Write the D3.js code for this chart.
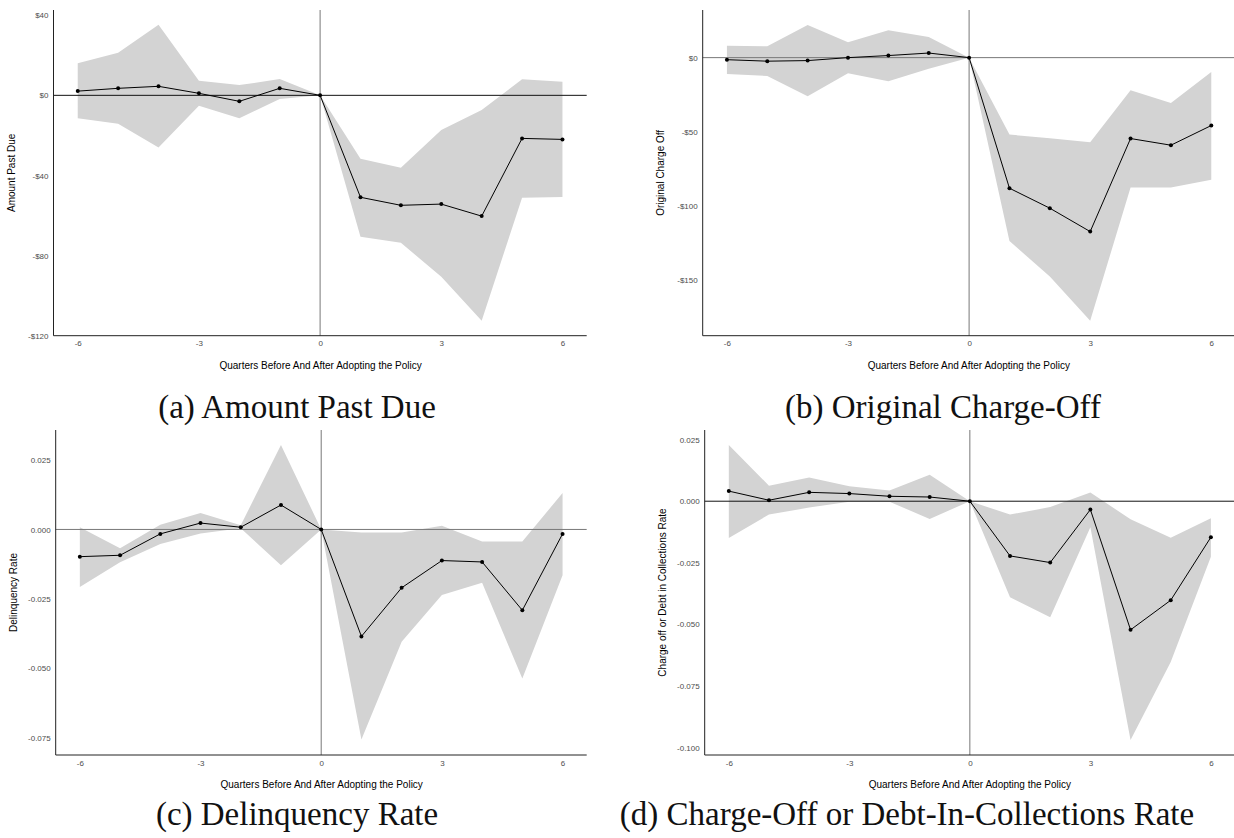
<!DOCTYPE html>
<html>
<head>
<meta charset="utf-8">
<script src="https://cdn.jsdelivr.net/npm/d3@7"></script>
<style>
  html, body { margin: 0; padding: 0; background: #fff; }
  svg { display: block; }
</style>
</head>
<body>
<svg id="fig" width="1234" height="838"></svg>
<script>
// Event-study estimates by quarter relative to policy adoption
const quarters = [-6, -5, -4, -3, -2, -1, 0, 1, 2, 3, 4, 5, 6];
const xTicks = [-6, -3, 0, 3, 6];
const xTitle = "Quarters Before And After Adopting the Policy";

// (a) Amount past due, dollars
const pastDueEst  = [2.1, 3.5, 4.5, 1.0, -3.0, 3.5, 0, -50.9, -54.9, -54.3, -60.3, -21.5, -22.0];
const pastDueLow  = [-11.5, -14.2, -26.0, -5.2, -11.5, -1.8, 0, -70.6, -73.6, -90.6, -112.5, -51.1, -50.8];
const pastDueHigh = [16.0, 21.3, 35.2, 7.3, 5.1, 8.1, 0, -31.6, -36.1, -17.3, -7.3, 8.0, 6.8];
const pastDueTicks = [40, 0, -40, -80, -120];
const pastDueTickLabels = ["$40", "$0", "-$40", "-$80", "-$120"];

// (b) Original charge-off, dollars
const chargeOffEst  = [-1.4, -2.4, -2.0, 0.0, 1.4, 3.1, 0, -88.3, -101.8, -117.6, -54.7, -59.2, -45.9];
const chargeOffLow  = [-11.0, -12.4, -26.1, -10.5, -16.0, -7.5, 0, -124.0, -148.0, -177.9, -87.8, -87.8, -82.6];
const chargeOffHigh = [8.1, 7.7, 22.1, 10.4, 18.5, 14.0, 0, -52.0, -54.5, -57.2, -22.0, -30.6, -9.7];
const chargeOffTicks = [0, -50, -100, -150];
const chargeOffTickLabels = ["$0", "-$50", "-$100", "-$150"];

// (c) Delinquency rate
const delinqEst  = [-0.0098, -0.0093, -0.0016, 0.0023, 0.0008, 0.0088, 0, -0.0385, -0.0210, -0.0112, -0.0117, -0.0291, -0.0016];
const delinqLow  = [-0.0207, -0.0118, -0.0052, -0.0015, 0.0004, -0.0129, 0, -0.0756, -0.0404, -0.0236, -0.0192, -0.0537, -0.0165];
const delinqHigh = [0.0008, -0.0068, 0.0017, 0.0059, 0.0015, 0.0304, 0, -0.0011, -0.0011, 0.0013, -0.0043, -0.0043, 0.0131];
const delinqTicks = [0.025, 0, -0.025, -0.05, -0.075];
const delinqTickLabels = ["0.025", "0.000", "-0.025", "-0.050", "-0.075"];

// (d) Charge-off or debt-in-collections rate
const collectEst  = [0.0041, 0.0004, 0.0036, 0.0031, 0.0020, 0.0017, 0, -0.0222, -0.0249, -0.0034, -0.0522, -0.0402, -0.0146];
const collectLow  = [-0.0149, -0.0054, -0.0026, -0.0002, -0.0002, -0.0072, 0, -0.0390, -0.0471, -0.0106, -0.0969, -0.0653, -0.0225];
const collectHigh = [0.0228, 0.0063, 0.0096, 0.0061, 0.0043, 0.0107, 0, -0.0054, -0.0024, 0.0035, -0.0073, -0.0148, -0.0069];
const collectTicks = [0.025, 0, -0.025, -0.05, -0.075, -0.1];
const collectTickLabels = ["0.025", "0.000", "-0.025", "-0.050", "-0.075", "-0.100"];

const panels = [
  { est: pastDueEst, low: pastDueLow, high: pastDueHigh, ticks: pastDueTicks, labels: pastDueTickLabels,
    yTitle: "Amount Past Due", caption: "(a) Amount Past Due",
    box: { left: 53.5, right: 586.7, top: 10, bottom: 335.7 }, yDomain: [-120, 42.6],
    hlineColor: "#111", capX: 297, capY: 418 },
  { est: chargeOffEst, low: chargeOffLow, high: chargeOffHigh, ticks: chargeOffTicks, labels: chargeOffTickLabels,
    yTitle: "Original Charge Off", caption: "(b) Original Charge-Off",
    box: { left: 702.7, right: 1235.5, top: 10, bottom: 335.7 }, yDomain: [-188, 32.2],
    hlineColor: "#777", capX: 943, capY: 418 },
  { est: delinqEst, low: delinqLow, high: delinqHigh, ticks: delinqTicks, labels: delinqTickLabels,
    yTitle: "Delinquency Rate", caption: "(c) Delinquency Rate",
    box: { left: 55.7, right: 586.7, top: 430, bottom: 755 }, yDomain: [-0.0812, 0.0358],
    hlineColor: "#777", capX: 297, capY: 825 },
  { est: collectEst, low: collectLow, high: collectHigh, ticks: collectTicks, labels: collectTickLabels,
    yTitle: "Charge off or Debt in Collections Rate", caption: "(d) Charge-Off or Debt-In-Collections Rate",
    box: { left: 704.7, right: 1235, top: 430, bottom: 755 }, yDomain: [-0.103, 0.0289],
    hlineColor: "#111", capX: 907, capY: 825 }
];

const svg = d3.select("#fig");
const sansFont = "'Liberation Sans', Arial, Helvetica, sans-serif";
const serifFont = "'Liberation Serif', 'Times New Roman', serif";

panels.forEach(p => {
  const b = p.box;
  const x = d3.scaleLinear().domain([-6.6, 6.6]).range([b.left, b.right]);
  const y = d3.scaleLinear().domain(p.yDomain).range([b.bottom, b.top]);
  const rows = quarters.map((q, i) => ({ q, est: p.est[i], low: p.low[i], high: p.high[i] }));
  const g = svg.append("g");

  // confidence band
  g.append("path")
    .datum(rows)
    .attr("fill", "#d3d3d3")
    .attr("d", d3.area().x(d => x(d.q)).y0(d => y(d.low)).y1(d => y(d.high)));

  // reference lines at zero
  g.append("line")
    .attr("x1", b.left).attr("x2", b.right)
    .attr("y1", y(0)).attr("y2", y(0))
    .attr("stroke", p.hlineColor).attr("stroke-width", 1);
  g.append("line")
    .attr("x1", x(0)).attr("x2", x(0))
    .attr("y1", b.top).attr("y2", b.bottom)
    .attr("stroke", "#777").attr("stroke-width", 1);

  // point estimates
  g.append("path")
    .datum(rows)
    .attr("fill", "none")
    .attr("stroke", "#000")
    .attr("stroke-width", 1)
    .attr("d", d3.line().x(d => x(d.q)).y(d => y(d.est)));
  g.selectAll("circle.pt")
    .data(rows)
    .join("circle")
    .attr("class", "pt")
    .attr("cx", d => x(d.q)).attr("cy", d => y(d.est))
    .attr("r", 2).attr("fill", "#000");

  // axes
  const yAxis = d3.axisLeft(y)
    .tickValues(p.ticks)
    .tickFormat((d, i) => p.labels[i])
    .tickSize(0).tickPadding(5);
  const ya = g.append("g").attr("transform", `translate(${b.left},0)`).call(yAxis);
  ya.select(".domain").attr("d", `M0,${b.top}V${b.bottom}`).attr("stroke", "#222");

  const xAxis = d3.axisBottom(x)
    .tickValues(xTicks)
    .tickFormat(d => String(d))
    .tickSize(0).tickPadding(5);
  const xa = g.append("g").attr("transform", `translate(0,${b.bottom})`).call(xAxis);
  xa.select(".domain").attr("d", `M${b.left},0H${b.right}`).attr("stroke", "#222");

  [ya, xa].forEach(a => a.selectAll("text")
    .attr("font-family", sansFont).attr("font-size", 8).attr("fill", "#4d4d4d"));

  // axis titles
  g.append("text")
    .attr("x", (b.left + Math.min(b.right, 1234)) / 2 + 0.5)
    .attr("y", b.bottom + 33)
    .attr("text-anchor", "middle")
    .attr("font-family", sansFont).attr("font-size", 10).attr("fill", "#000")
    .text(xTitle);
  g.append("text")
    .attr("transform", `translate(${b.left - 42},${(b.top + b.bottom) / 2}) rotate(-90)`)
    .attr("text-anchor", "middle")
    .attr("dominant-baseline", "central")
    .attr("font-family", sansFont).attr("font-size", 10).attr("fill", "#000")
    .text(p.yTitle);

  // subfigure caption
  svg.append("text")
    .attr("x", p.capX).attr("y", p.capY)
    .attr("text-anchor", "middle")
    .attr("font-family", serifFont).attr("font-size", 33).attr("fill", "#111")
    .text(p.caption);
});
</script>
</body>
</html>
